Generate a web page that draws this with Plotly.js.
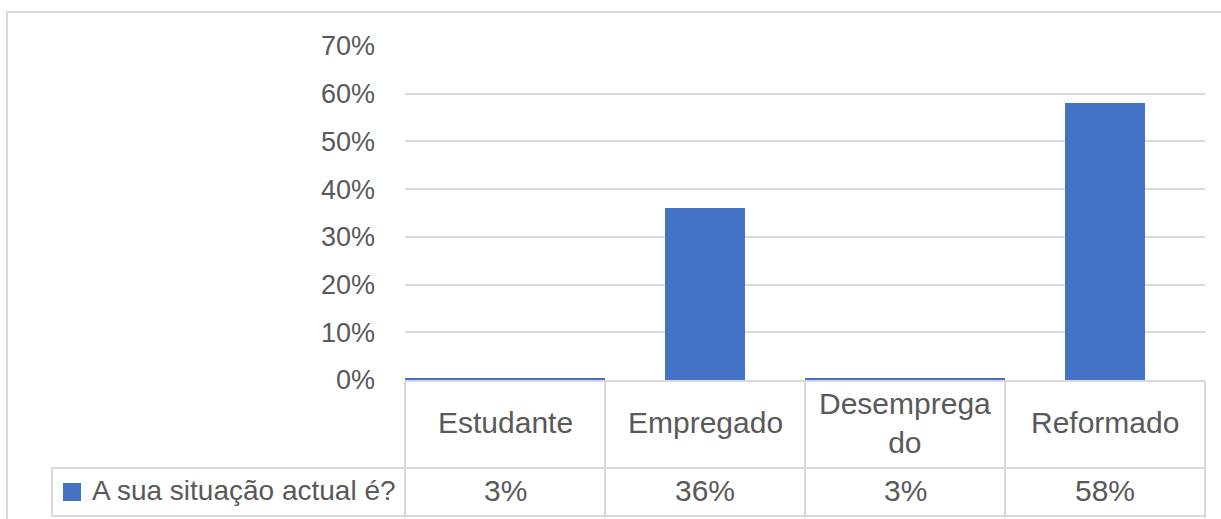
<!DOCTYPE html>
<html>
<head>
<meta charset="utf-8">
<script src="https://cdn.plot.ly/plotly-3.0.1.min.js"></script>
<style>
  html, body { margin: 0; padding: 0; background: #ffffff; }
  #chart { width: 1221px; height: 519px; }
</style>
</head>
<body>
<div id="chart"></div>
<script>
// ---- data ----
var categories = ["Estudante", "Empregado", "Desempregado", "Reformado"];
var categoryLabels = ["Estudante", "Empregado", "Desemprega<br>do", "Reformado"];
var seriesName = "A sua situação actual é?";
// bar heights as drawn in the picture (the two small ones show as a line on the baseline)
var barValues = [0.004, 0.36, 0.004, 0.58];
// values printed in the data table under the chart
var tableLabels = ["3%", "36%", "3%", "58%"];
var yTickValues = [0, 0.1, 0.2, 0.3, 0.4, 0.5, 0.6, 0.7];
var yTickLabels = ["0%", "10%", "20%", "30%", "40%", "50%", "60%", "70%"];

// ---- styles ----
var barColor = "#4472C4";
var textColor = "#595959";
var gridColor = "#d9d9d9";
var fontFamily = "'Liberation Sans', Arial, sans-serif";
var fs = 30;

var trace = {
  type: "bar",
  x: categories,
  y: barValues,
  name: seriesName,
  width: [1, 0.4, 1, 0.4],
  marker: { color: barColor, line: { width: 0 } },
  hoverinfo: "x+y",
  showlegend: false
};

var annotations = [];
categories.forEach(function (c, i) {
  annotations.push({
    x: c, xref: "x", y: -0.128, yref: "paper",
    text: categoryLabels[i], showarrow: false,
    xanchor: "center", yanchor: "middle",
    font: { family: fontFamily, size: fs, color: textColor }
  });
  annotations.push({
    x: c, xref: "x", y: -0.332, yref: "paper",
    text: tableLabels[i], showarrow: false,
    xanchor: "center", yanchor: "middle",
    font: { family: fontFamily, size: fs, color: textColor }
  });
});
annotations.push({
  x: -0.394, xref: "paper", y: -0.332, yref: "paper",
  text: seriesName, showarrow: false,
  xanchor: "left", yanchor: "middle",
  font: { family: fontFamily, size: 28, color: textColor }
});

var shapes = [
  // outer chart border
  { type: "rect", xref: "paper", yref: "paper", x0: -0.4975, x1: 1.03, y0: -0.44, y1: 1.1018,
    line: { color: gridColor, width: 2 }, fillcolor: "rgba(0,0,0,0)", layer: "below" },
  // data table horizontal lines
  { type: "line", xref: "paper", yref: "paper", x0: -0.44125, x1: 1, y0: -0.2635, y1: -0.2635,
    line: { color: gridColor, width: 2 } },
  { type: "line", xref: "paper", yref: "paper", x0: -0.44125, x1: 1, y0: -0.4072, y1: -0.4072,
    line: { color: gridColor, width: 2 } },
  { type: "line", xref: "paper", yref: "paper", x0: -0.44125, x1: -0.44125, y0: -0.2635, y1: -0.4072,
    line: { color: gridColor, width: 2 } },
  // legend key
  { type: "rect", xref: "paper", yref: "paper", x0: -0.4275, x1: -0.405, y0: -0.3084, y1: -0.3623,
    line: { width: 0 }, fillcolor: barColor }
];

var layout = {
  width: 1221,
  height: 519,
  margin: { l: 405, r: 16, t: 46, b: 139, pad: 0 },
  paper_bgcolor: "#ffffff",
  plot_bgcolor: "#ffffff",
  font: { family: fontFamily, size: fs, color: textColor },
  showlegend: false,
  bargap: 0,
  xaxis: {
    type: "category",
    categoryorder: "array",
    categoryarray: categories,
    showticklabels: false,
    ticks: "outside",
    tickson: "boundaries",
    ticklen: 136,
    tickwidth: 2,
    tickcolor: gridColor,
    showline: true,
    linecolor: gridColor,
    linewidth: 2,
    showgrid: false,
    zeroline: false,
    fixedrange: true
  },
  yaxis: {
    range: [0, 0.7],
    tickmode: "array",
    tickvals: yTickValues,
    ticktext: yTickLabels,
    showgrid: true,
    gridcolor: gridColor,
    gridwidth: 2,
    zeroline: false,
    showline: false,
    ticks: "",
    ticklabelstandoff: 29,
    tickfont: { family: fontFamily, size: 27, color: textColor },
    fixedrange: true
  },
  annotations: annotations,
  shapes: shapes
};

Plotly.newPlot("chart", [trace], layout, { displayModeBar: false, staticPlot: true });
</script>
</body>
</html>
